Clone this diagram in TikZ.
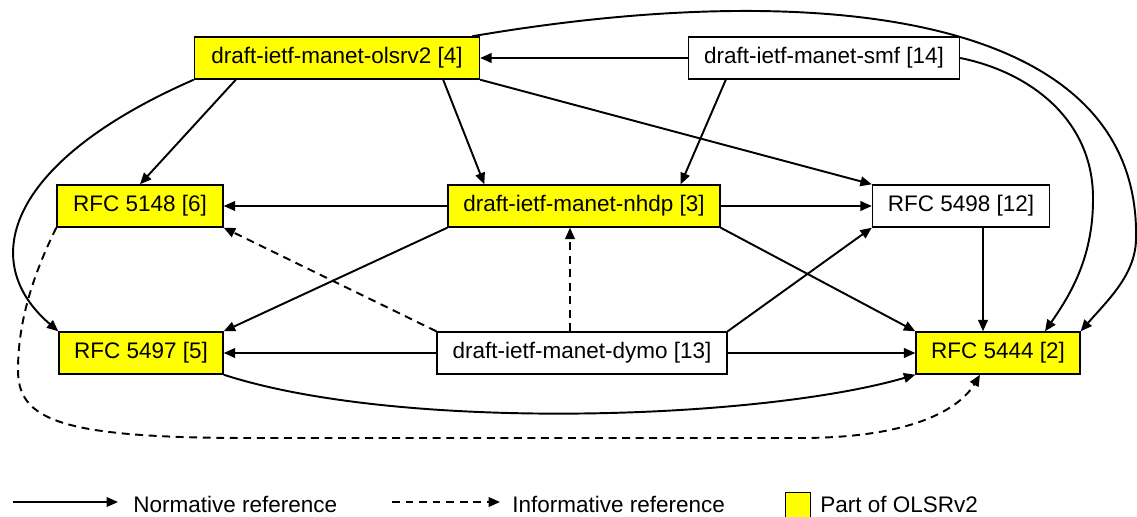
\documentclass[tikz,border=0pt]{standalone}
\usepackage{fontspec}
\setmainfont{Liberation Sans}
\definecolor{olsryellow}{HTML}{FFFF00}
\usetikzlibrary{arrows.meta,calc}

\begin{document}
\begin{tikzpicture}[x=0.02cm, y=-0.02cm,
  olsrnode/.style={
    draw=black, fill=olsryellow, line width=0.8pt,
    minimum height=0.84cm, inner sep=0pt,
    font=\fontsize{12.8}{15}\selectfont},
  extnode/.style={
    draw=black, fill=white, line width=0.8pt,
    minimum height=0.84cm, inner sep=0pt,
    font=\fontsize{12.8}{15}\selectfont},
  legtext/.style={anchor=west, inner sep=0pt, font=\fontsize{12.8}{15}\selectfont},
  arr/.style={-{Triangle[length=6.5pt,width=5.5pt]}, line width=1.1pt},
  iarr/.style={arr, dash pattern=on 4.5pt off 3.2pt},
]
  \useasboundingbox (0,0) rectangle (1137,517);

  % documents
  \node[olsrnode, minimum width=5.7cm]  (olsrv2) at (337,58)  {draft-ietf-manet-olsrv2 [4]};
  \node[extnode,  minimum width=5.42cm] (smf)    at (824,58)  {draft-ietf-manet-smf [14]};
  \node[olsrnode, minimum width=3.32cm] (r5148)  at (140,206) {RFC 5148 [6]};
  \node[olsrnode, minimum width=5.44cm] (nhdp)   at (584,206) {draft-ietf-manet-nhdp [3]};
  \node[extnode,  minimum width=3.54cm] (r5498)  at (961,206) {RFC 5498 [12]};
  \node[olsrnode, minimum width=3.28cm] (r5497)  at (141,353) {RFC 5497 [5]};
  \node[extnode,  minimum width=5.8cm]  (dymo)   at (582,353) {draft-ietf-manet-dymo [13]};
  \node[olsrnode, minimum width=3.28cm] (r5444)  at (998,353) {RFC 5444 [2]};

  % normative references
  \draw[arr] (smf.west) -- (olsrv2.east);
  \draw[arr] ($(olsrv2.south west)+(42,0)$) -- (r5148.north);
  \draw[arr] ($(olsrv2.south east)+(-37,0)$) -- ($(nhdp.north west)+(37,0)$);
  \draw[arr] (olsrv2.south east) -- (r5498.north west);
  \draw[arr] (olsrv2.south west) .. controls (10,160) and (-25,260) .. (r5497.north west);
  \draw[arr] ($(olsrv2.north east)+(-8,0)$) .. controls (800,-20) and (1142,5) .. (1136,240)
                                 .. controls (1135,275) and (1108,300) .. (r5444.north east);
  \draw[arr] ($(smf.south west)+(38,0)$) -- ($(nhdp.north east)+(-40,0)$);
  \draw[arr] (smf.east) .. controls (1030,72) and (1094,120) .. (1093,200)
                        .. controls (1093,260) and (1068,298) .. ($(r5444.north)+(47,0)$);
  \draw[arr] (nhdp.west) -- (r5148.east);
  \draw[arr] (nhdp.east) -- (r5498.west);
  \draw[arr] (nhdp.south west) -- (r5497.north east);
  \draw[arr] (nhdp.south east) -- (r5444.north west);
  \draw[arr] ($(r5498.south)+(22,0)$) coordinate (a) -- (a |- r5444.north);
  \draw[arr] (dymo.west) -- (r5497.east);
  \draw[arr] (dymo.east) -- (r5444.west);
  \draw[arr] (dymo.north east) -- (r5498.south west);
  \draw[arr] (r5497.south east) .. controls (400,432) and (760,420) .. (r5444.south west);

  % informative references
  \draw[iarr] ($(dymo.north)+(-12,0)$) coordinate (b) -- (b |- nhdp.south);
  \draw[iarr] (dymo.north west) -- (r5148.south east);
  \draw[iarr] (r5148.south west) .. controls (28,285) and (18,330) .. (18,370)
              .. controls (18,420) and (60,438) .. (250,438)
              -- (800,438) .. controls (920,438) and (962,405) .. ($(r5444.south)+(-18,0)$);

  % legend
  \coordinate (n1) at (13,502);  \coordinate (n2) at (118,502);
  \coordinate (i1) at (392,502); \coordinate (i2) at (500,502);
  \draw[arr] (n1) -- (n2);
  \node[legtext] (ntext) at (133,504) {Normative reference};
  \draw[iarr] (i1) -- (i2);
  \node[legtext] (itext) at (512,504) {Informative reference};
  \node[olsrnode, minimum width=0.5cm, minimum height=0.5cm] (key) at (798,505) {};
  \node[legtext] (ktext) at (820,504) {Part of OLSRv2};
\end{tikzpicture}
\end{document}
